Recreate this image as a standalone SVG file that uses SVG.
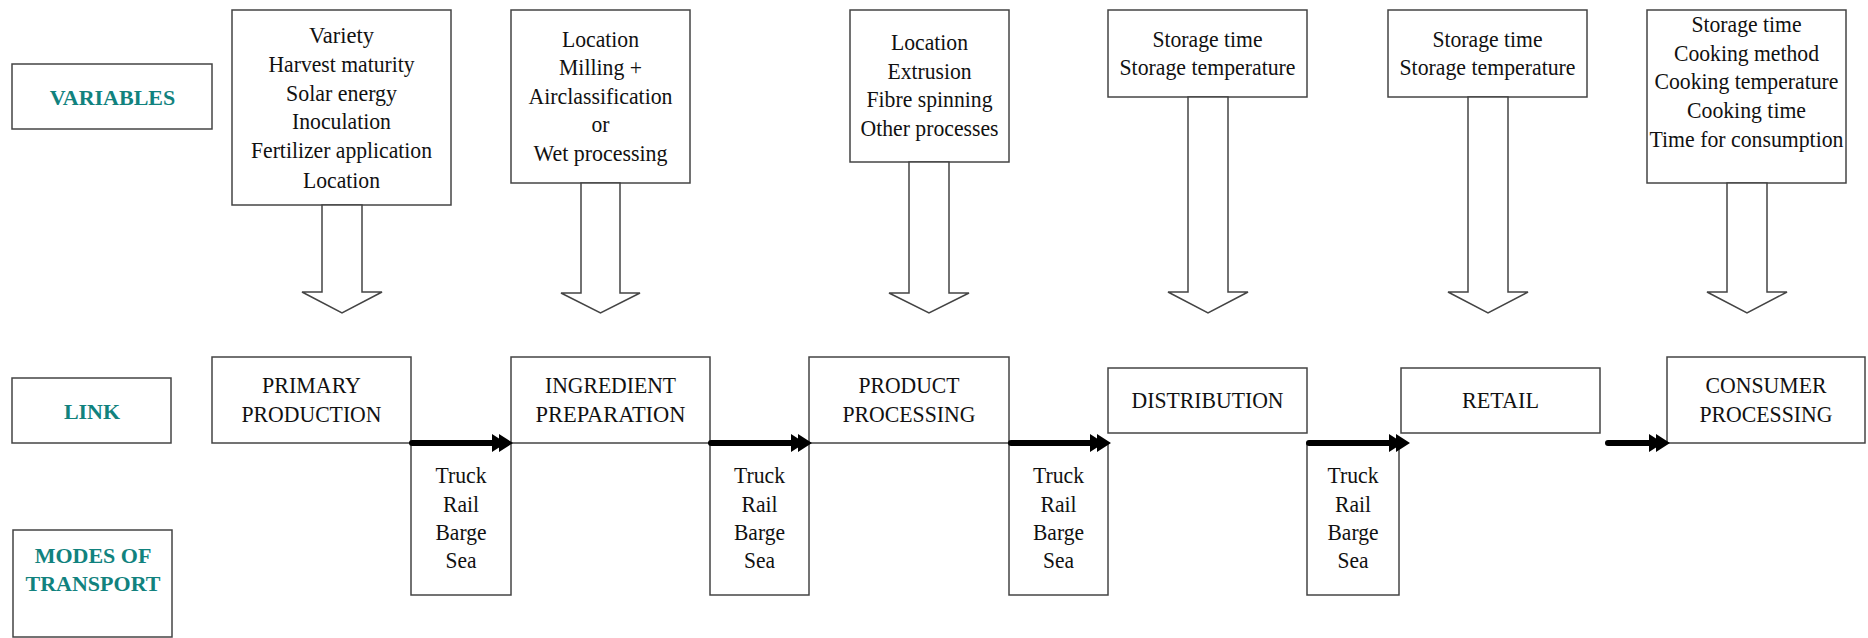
<svg xmlns="http://www.w3.org/2000/svg" width="1868" height="638" viewBox="0 0 1868 638">
<style>
.box{fill:#fff;stroke:#444;stroke-width:1.5}
.t{font-family:"Liberation Serif","Times New Roman",serif;font-size:24px;fill:#111;text-anchor:middle}
.lab{font-family:"Liberation Serif","Times New Roman",serif;font-size:22px;font-weight:bold;fill:#11827e;text-anchor:middle}
.blk{fill:#fff;stroke:#444;stroke-width:1.5}
.shaft{stroke:#000;stroke-width:6;stroke-linecap:round;fill:none}
.head{fill:#000}
</style>
<defs>
<path id="hd" d="M-21,-9 L-7,0 L-21,9 Z M-14,-9 L0,0 L-14,9 Z"/>
</defs>
<rect width="1868" height="638" fill="#fff"/>

<g id="variables-label">
<rect class="box" x="12" y="64" width="200" height="65"/>
<text class="lab" x="112.5" y="105">VARIABLES</text>
</g>
<g id="link-label">
<rect class="box" x="12" y="378" width="159" height="65"/>
<text class="lab" x="92" y="419">LINK</text>
</g>
<g id="modes-label">
<rect class="box" x="13" y="530" width="159" height="107"/>
<text class="lab" x="93" y="563">MODES OF</text>
<text class="lab" x="93" y="591">TRANSPORT</text>
</g>

<g id="var-primary">
<rect class="box" x="232" y="10" width="219" height="195"/>
<text class="t" x="341.5" y="43" textLength="65" lengthAdjust="spacingAndGlyphs">Variety</text>
<text class="t" x="341.5" y="72" textLength="146" lengthAdjust="spacingAndGlyphs">Harvest maturity</text>
<text class="t" x="341.5" y="101" textLength="111" lengthAdjust="spacingAndGlyphs">Solar energy</text>
<text class="t" x="341.5" y="129" textLength="99" lengthAdjust="spacingAndGlyphs">Inoculation</text>
<text class="t" x="341.5" y="158" textLength="181" lengthAdjust="spacingAndGlyphs">Fertilizer application</text>
<text class="t" x="341.5" y="188" textLength="77" lengthAdjust="spacingAndGlyphs">Location</text>
</g>
<g id="var-ingredient">
<rect class="box" x="511" y="10" width="179" height="173"/>
<text class="t" x="600.5" y="47" textLength="77" lengthAdjust="spacingAndGlyphs">Location</text>
<text class="t" x="600.5" y="75" textLength="83" lengthAdjust="spacingAndGlyphs">Milling +</text>
<text class="t" x="600.5" y="104" textLength="144" lengthAdjust="spacingAndGlyphs">Airclassification</text>
<text class="t" x="600.5" y="132" textLength="18" lengthAdjust="spacingAndGlyphs">or</text>
<text class="t" x="600.5" y="161" textLength="134" lengthAdjust="spacingAndGlyphs">Wet processing</text>
</g>
<g id="var-product">
<rect class="box" x="850" y="10" width="159" height="152"/>
<text class="t" x="929.5" y="50" textLength="77" lengthAdjust="spacingAndGlyphs">Location</text>
<text class="t" x="929.5" y="79" textLength="84" lengthAdjust="spacingAndGlyphs">Extrusion</text>
<text class="t" x="929.5" y="107" textLength="126" lengthAdjust="spacingAndGlyphs">Fibre spinning</text>
<text class="t" x="929.5" y="136" textLength="138" lengthAdjust="spacingAndGlyphs">Other processes</text>
</g>
<g id="var-distribution">
<rect class="box" x="1108" y="10" width="199" height="87"/>
<text class="t" x="1207.5" y="47" textLength="110" lengthAdjust="spacingAndGlyphs">Storage time</text>
<text class="t" x="1207.5" y="75" textLength="176" lengthAdjust="spacingAndGlyphs">Storage temperature</text>
</g>
<g id="var-retail">
<rect class="box" x="1388" y="10" width="199" height="87"/>
<text class="t" x="1487.5" y="47" textLength="110" lengthAdjust="spacingAndGlyphs">Storage time</text>
<text class="t" x="1487.5" y="75" textLength="176" lengthAdjust="spacingAndGlyphs">Storage temperature</text>
</g>
<g id="var-consumer">
<rect class="box" x="1647" y="10" width="199" height="173"/>
<text class="t" x="1746.5" y="32" textLength="110" lengthAdjust="spacingAndGlyphs">Storage time</text>
<text class="t" x="1746.5" y="61" textLength="145" lengthAdjust="spacingAndGlyphs">Cooking method</text>
<text class="t" x="1746.5" y="89" textLength="184" lengthAdjust="spacingAndGlyphs">Cooking temperature</text>
<text class="t" x="1746.5" y="118" textLength="119" lengthAdjust="spacingAndGlyphs">Cooking time</text>
<text class="t" x="1746.5" y="147" textLength="194" lengthAdjust="spacingAndGlyphs">Time for consumption</text>
</g>

<g id="transport-1">
<rect class="box" x="411" y="443" width="100" height="152"/>
<text class="t" x="461" y="483" textLength="51" lengthAdjust="spacingAndGlyphs">Truck</text>
<text class="t" x="461" y="512" textLength="36" lengthAdjust="spacingAndGlyphs">Rail</text>
<text class="t" x="461" y="540" textLength="51" lengthAdjust="spacingAndGlyphs">Barge</text>
<text class="t" x="461" y="568" textLength="31" lengthAdjust="spacingAndGlyphs">Sea</text>
</g>
<g id="transport-2">
<rect class="box" x="710" y="443" width="99" height="152"/>
<text class="t" x="759.5" y="483" textLength="51" lengthAdjust="spacingAndGlyphs">Truck</text>
<text class="t" x="759.5" y="512" textLength="36" lengthAdjust="spacingAndGlyphs">Rail</text>
<text class="t" x="759.5" y="540" textLength="51" lengthAdjust="spacingAndGlyphs">Barge</text>
<text class="t" x="759.5" y="568" textLength="31" lengthAdjust="spacingAndGlyphs">Sea</text>
</g>
<g id="transport-3">
<rect class="box" x="1009" y="443" width="99" height="152"/>
<text class="t" x="1058.5" y="483" textLength="51" lengthAdjust="spacingAndGlyphs">Truck</text>
<text class="t" x="1058.5" y="512" textLength="36" lengthAdjust="spacingAndGlyphs">Rail</text>
<text class="t" x="1058.5" y="540" textLength="51" lengthAdjust="spacingAndGlyphs">Barge</text>
<text class="t" x="1058.5" y="568" textLength="31" lengthAdjust="spacingAndGlyphs">Sea</text>
</g>
<g id="transport-4">
<rect class="box" x="1307" y="443" width="92" height="152"/>
<text class="t" x="1353" y="483" textLength="51" lengthAdjust="spacingAndGlyphs">Truck</text>
<text class="t" x="1353" y="512" textLength="36" lengthAdjust="spacingAndGlyphs">Rail</text>
<text class="t" x="1353" y="540" textLength="51" lengthAdjust="spacingAndGlyphs">Barge</text>
<text class="t" x="1353" y="568" textLength="31" lengthAdjust="spacingAndGlyphs">Sea</text>
</g>

<g id="primary-production">
<rect class="box" x="212" y="357" width="199" height="86"/>
<text class="t" x="311.5" y="393" textLength="99" lengthAdjust="spacingAndGlyphs">PRIMARY</text>
<text class="t" x="311.5" y="422" textLength="140" lengthAdjust="spacingAndGlyphs">PRODUCTION</text>
</g>
<g id="ingredient-preparation">
<rect class="box" x="511" y="357" width="199" height="86"/>
<text class="t" x="610.5" y="393" textLength="131" lengthAdjust="spacingAndGlyphs">INGREDIENT</text>
<text class="t" x="610.5" y="422" textLength="150" lengthAdjust="spacingAndGlyphs">PREPARATION</text>
</g>
<g id="product-processing">
<rect class="box" x="809" y="357" width="200" height="86"/>
<text class="t" x="909" y="393" textLength="101" lengthAdjust="spacingAndGlyphs">PRODUCT</text>
<text class="t" x="909" y="422" textLength="133" lengthAdjust="spacingAndGlyphs">PROCESSING</text>
</g>
<g id="distribution">
<rect class="box" x="1108" y="368" width="199" height="65"/>
<text class="t" x="1207.5" y="408" textLength="152" lengthAdjust="spacingAndGlyphs">DISTRIBUTION</text>
</g>
<g id="retail">
<rect class="box" x="1401" y="368" width="199" height="65"/>
<text class="t" x="1500.5" y="408" textLength="77" lengthAdjust="spacingAndGlyphs">RETAIL</text>
</g>
<g id="consumer-processing">
<rect class="box" x="1667" y="357" width="198" height="86"/>
<text class="t" x="1766" y="393" textLength="121" lengthAdjust="spacingAndGlyphs">CONSUMER</text>
<text class="t" x="1766" y="422" textLength="133" lengthAdjust="spacingAndGlyphs">PROCESSING</text>
</g>

<g id="connectors">
<path class="blk" d="M322,205 V292 H302 L342,313 L382,292 H362 V205 Z"/>
<path class="blk" d="M581,183 V293 H561 L600.5,313 L640,293 H620 V183 Z"/>
<path class="blk" d="M909,162 V293 H889 L929,313 L969,293 H949 V162 Z"/>
<path class="blk" d="M1188,97 V292 H1168 L1208,313 L1248,292 H1228 V97 Z"/>
<path class="blk" d="M1468,97 V292 H1448 L1488,313 L1528,292 H1508 V97 Z"/>
<path class="blk" d="M1727,183 V292 H1707 L1747,313 L1787,292 H1767 V183 Z"/>

<line class="shaft" x1="412" y1="443" x2="495" y2="443"/>
<use href="#hd" class="head" transform="translate(513,443)"/>
<line class="shaft" x1="711" y1="443" x2="794" y2="443"/>
<use href="#hd" class="head" transform="translate(812,443)"/>
<line class="shaft" x1="1011" y1="443" x2="1093" y2="443"/>
<use href="#hd" class="head" transform="translate(1111,443)"/>
<line class="shaft" x1="1309" y1="443" x2="1392" y2="443"/>
<use href="#hd" class="head" transform="translate(1410,443)"/>
<line class="shaft" x1="1608" y1="443" x2="1652" y2="443"/>
<use href="#hd" class="head" transform="translate(1670,443)"/>
</g>
</svg>
